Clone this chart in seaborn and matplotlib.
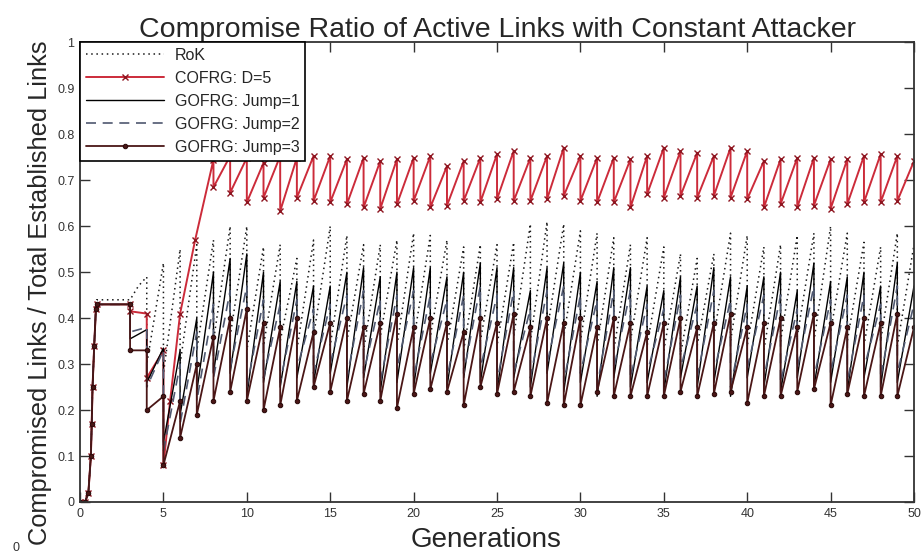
"""
Compromise ratio of active links with a constant attacker.
RoK vs COFRG vs GOFRG (jump 1..3), sawtooth curves over generations.
"""

import pandas as pd
import seaborn as sns
import matplotlib.pyplot as plt


# ============================================================
# DATA
# ============================================================

# start-up ramp shared by all schemes (generation, ratio)
ramp_gen = [0, 0.3, 0.5, 0.65, 0.7, 0.75, 0.85, 0.95]
ramp_val = [0, 0, 0.02, 0.10, 0.17, 0.25, 0.34, 0.42]

# --- RoK (dotted) ---
rok_head_gen = [1.0, 3.0, 3.5, 4.0]
rok_head_val = [0.44, 0.44, 0.47, 0.49]
rok_drop_gens = list(range(4, 50))
rok_troughs = [0.30, 0.28, 0.30, 0.33, 0.35, 0.36,
               0.33, 0.34, 0.35, 0.33, 0.36, 0.34, 0.35, 0.33, 0.36, 0.34,
               0.35, 0.36, 0.34, 0.33, 0.35, 0.34, 0.36, 0.35, 0.37, 0.36,
               0.35, 0.34, 0.33, 0.35, 0.34, 0.33, 0.32, 0.34, 0.36, 0.35,
               0.34, 0.33, 0.35, 0.36, 0.35, 0.37, 0.35, 0.34, 0.35, 0.34]
rok_peaks = [0.52, 0.55, 0.56, 0.57, 0.60,
             0.60, 0.555, 0.56, 0.53, 0.57, 0.60, 0.58, 0.56, 0.56, 0.57,
             0.585, 0.58, 0.57, 0.555, 0.56, 0.56, 0.565, 0.605, 0.61, 0.605,
             0.59, 0.585, 0.575, 0.56, 0.575, 0.555, 0.54, 0.53, 0.54, 0.585,
             0.58, 0.555, 0.56, 0.58, 0.585, 0.60, 0.585, 0.565, 0.555, 0.585,
             0.56]

# --- COFRG: D=5 (red, x markers) ---
cofrg_head_gen = [1.0, 3.0, 3.0, 4.0, 4.0, 5.0, 5.0, 5.4, 6.0, 6.9, 8.0]
cofrg_head_val = [0.43, 0.43, 0.415, 0.41, 0.27, 0.33, 0.08, 0.22, 0.41, 0.57, 0.745]
cofrg_drop_gens = list(range(8, 50))
cofrg_troughs = [0.685,
                 0.673, 0.652, 0.662, 0.633, 0.662, 0.655, 0.652, 0.648, 0.641, 0.638,
                 0.648, 0.655, 0.641, 0.645, 0.655, 0.652, 0.659, 0.655, 0.655, 0.659,
                 0.666, 0.655, 0.652, 0.652, 0.641, 0.670, 0.662, 0.666, 0.662, 0.666,
                 0.662, 0.659, 0.641, 0.648, 0.641, 0.645, 0.638, 0.648, 0.652, 0.652,
                 0.655]
cofrg_peaks = [0.753, 0.749, 0.738, 0.753, 0.749, 0.753, 0.753, 0.746, 0.749, 0.742,
               0.746, 0.749, 0.753, 0.731, 0.742, 0.749, 0.757, 0.764, 0.749, 0.753,
               0.771, 0.753, 0.749, 0.749, 0.746, 0.753, 0.771, 0.764, 0.760, 0.753,
               0.771, 0.764, 0.742, 0.746, 0.749, 0.749, 0.746, 0.746, 0.753, 0.757,
               0.753, 0.742]

# --- GOFRG: Jump=1 (solid black) ---
j1_head_gen = [1.0, 3.0, 3.0, 4.0, 4.0, 5.0]
j1_head_val = [0.43, 0.43, 0.355, 0.375, 0.26, 0.335]
j1_drop_gens = list(range(5, 50))
j1_troughs = [0.13, 0.19, 0.24, 0.28, 0.28, 0.23,
              0.26, 0.25, 0.27, 0.26, 0.28, 0.25, 0.27, 0.24, 0.26, 0.25,
              0.28, 0.25, 0.27, 0.26, 0.24, 0.27, 0.25, 0.28, 0.24, 0.26,
              0.23, 0.27, 0.25, 0.26, 0.24, 0.27, 0.25, 0.26, 0.23, 0.27,
              0.25, 0.24, 0.27, 0.25, 0.26, 0.24, 0.27, 0.25, 0.26]
j1_peaks = [0.33, 0.40, 0.50, 0.53, 0.54,
            0.50, 0.48, 0.48, 0.47, 0.47, 0.50, 0.51, 0.49, 0.50, 0.51,
            0.51, 0.49, 0.50, 0.52, 0.51, 0.51, 0.46, 0.51, 0.52, 0.50,
            0.48, 0.51, 0.51, 0.47, 0.46, 0.49, 0.47, 0.51, 0.49, 0.47,
            0.49, 0.50, 0.46, 0.52, 0.48, 0.49, 0.50, 0.47, 0.52, 0.47]

# --- GOFRG: Jump=2 (dashed) ---
j2_head_gen = [1.0, 3.0, 3.0, 4.0, 4.0, 5.0]
j2_head_val = [0.43, 0.43, 0.37, 0.38, 0.25, 0.33]
j2_drop_gens = list(range(5, 50))
j2_troughs = [0.11, 0.17, 0.22, 0.27, 0.29, 0.25, 0.27, 0.26, 0.29, 0.28,
              0.30, 0.27, 0.28, 0.26, 0.29, 0.27, 0.30, 0.27, 0.28, 0.29,
              0.26, 0.28, 0.27, 0.30, 0.26, 0.28, 0.25, 0.29, 0.27, 0.28,
              0.26, 0.29, 0.27, 0.28, 0.25, 0.29, 0.27, 0.26, 0.29, 0.27,
              0.28, 0.26, 0.29, 0.27, 0.28]
j2_peaks = [0.30, 0.37, 0.43, 0.46, 0.47, 0.44, 0.43, 0.44, 0.42, 0.43,
            0.45, 0.46, 0.44, 0.45, 0.46, 0.45, 0.44, 0.45, 0.47, 0.45,
            0.46, 0.42, 0.46, 0.47, 0.45, 0.44, 0.46, 0.46, 0.43, 0.42,
            0.45, 0.43, 0.46, 0.44, 0.43, 0.45, 0.45, 0.42, 0.47, 0.44,
            0.45, 0.45, 0.43, 0.47, 0.43]

# --- GOFRG: Jump=3 (dark red, dot markers) ---
j3_head_gen = [1.0, 3.0, 3.0, 4.0, 4.0, 5.0]
j3_head_val = [0.43, 0.43, 0.33, 0.33, 0.20, 0.23]
j3_drop_gens = list(range(5, 50))
j3_troughs = [0.08, 0.14, 0.19, 0.22, 0.24, 0.22,
              0.20, 0.21, 0.22, 0.25, 0.24, 0.22, 0.235, 0.22, 0.205, 0.235,
              0.245, 0.24, 0.21, 0.25, 0.235, 0.24, 0.23, 0.215, 0.21,
              0.21, 0.24, 0.23, 0.23, 0.23, 0.23, 0.24, 0.23, 0.235, 0.24,
              0.215, 0.23, 0.23, 0.24, 0.245, 0.21, 0.235, 0.23, 0.23, 0.23]
j3_peaks = [0.22, 0.30, 0.36, 0.40, 0.42,
            0.39, 0.38, 0.40, 0.37, 0.39, 0.40, 0.38, 0.39, 0.41, 0.38,
            0.40, 0.39, 0.37, 0.40, 0.39, 0.41, 0.38, 0.40, 0.39, 0.40,
            0.38, 0.40, 0.39, 0.37, 0.39, 0.40, 0.38, 0.39, 0.41, 0.38,
            0.39, 0.40, 0.38, 0.41, 0.39, 0.38, 0.40, 0.39, 0.41, 0.38]

labels = ["RoK", "COFRG: D=5", "GOFRG: Jump=1", "GOFRG: Jump=2", "GOFRG: Jump=3"]
x_ticks = list(range(0, 51, 5))
y_ticks = [0, 0.1, 0.2, 0.3, 0.4, 0.5, 0.6, 0.7, 0.8, 0.9, 1]
y_tick_labels = ["0", "0.1", "0.2", "0.3", "0.4", "0.5", "0.6", "0.7", "0.8", "0.9", "1"]


def sawtooth(head_gen, head_val, drop_gens, troughs, peaks):
    """Chain ramp + head + teeth (vertical drop at each generation, rise to next peak)."""
    gens = ramp_gen + head_gen
    vals = ramp_val + head_val
    for g, lo, hi in zip(drop_gens, troughs, peaks):
        gens += [g, g + 1]
        vals += [lo, hi]
    return pd.DataFrame({"gen": gens, "ratio": vals})


series = [
    (sawtooth(rok_head_gen, rok_head_val, rok_drop_gens, rok_troughs, rok_peaks),
     dict(color="#1a1a1a", linestyle=(0, (1, 2.4)), linewidth=1.1)),
    (sawtooth(cofrg_head_gen, cofrg_head_val, cofrg_drop_gens, cofrg_troughs, cofrg_peaks),
     dict(color="#cc2b3a", linewidth=1.4, marker="x", markersize=5,
          markeredgecolor="#8e1520", markeredgewidth=1.0)),
    (sawtooth(j1_head_gen, j1_head_val, j1_drop_gens, j1_troughs, j1_peaks),
     dict(color="black", linewidth=1.0)),
    (sawtooth(j2_head_gen, j2_head_val, j2_drop_gens, j2_troughs, j2_peaks),
     dict(color="#4f5870", linestyle=(0, (6, 4)), linewidth=1.2)),
    (sawtooth(j3_head_gen, j3_head_val, j3_drop_gens, j3_troughs, j3_peaks),
     dict(color="#4a1616", linewidth=1.3, marker="o", markersize=3.2,
          markeredgecolor="#2a0a0a")),
]


# ============================================================
# PLOT
# ============================================================

sns.set_style("ticks")
plt.rcParams["font.family"] = ["Liberation Sans", "DejaVu Sans"]

fig = plt.figure(figsize=(9.21, 5.55), dpi=100)
ax = fig.add_axes([0.0869, 0.0955, 0.9055, 0.828])

for (df, style), lab in zip(series, labels):
    sns.lineplot(data=df, x="gen", y="ratio", estimator=None, sort=False,
                 label=lab, ax=ax, **style)

ax.set_xlim(0, 50)
ax.set_ylim(0, 1)
ax.set_xticks(x_ticks)
ax.set_yticks(y_ticks)
ax.set_yticklabels(y_tick_labels)
ax.tick_params(direction="in", top=True, right=True, length=7, width=1,
               labelsize=9, labelcolor="#333333", color="#333333", pad=4)
for sp in ax.spines.values():
    sp.set_linewidth(1.3)
    sp.set_color("#333333")

ax.set_title("Compromise Ratio of Active Links with Constant Attacker",
             fontsize=20.5, pad=4)
ax.set_xlabel("Generations", fontsize=20, va="center")
ax.xaxis.set_label_coords(0.487, -0.083)
ax.set_ylabel("Compromised Links / Total Established Links", fontsize=18.3, va="center")
ax.yaxis.set_label_coords(-0.048, 0.455)

leg = ax.legend(loc="upper left", borderaxespad=0, fontsize=11.5, frameon=True,
                fancybox=False, edgecolor="black", framealpha=1,
                handlelength=4.9, handletextpad=0.7, labelspacing=0.5,
                borderpad=0.35)
leg.get_frame().set_linewidth(1.2)

fig.text(12 / 921, 1 - 548 / 555, "0", fontsize=9, va="center", color="#333333")

fig.savefig("out.png", dpi=100)
plt.close(fig)
